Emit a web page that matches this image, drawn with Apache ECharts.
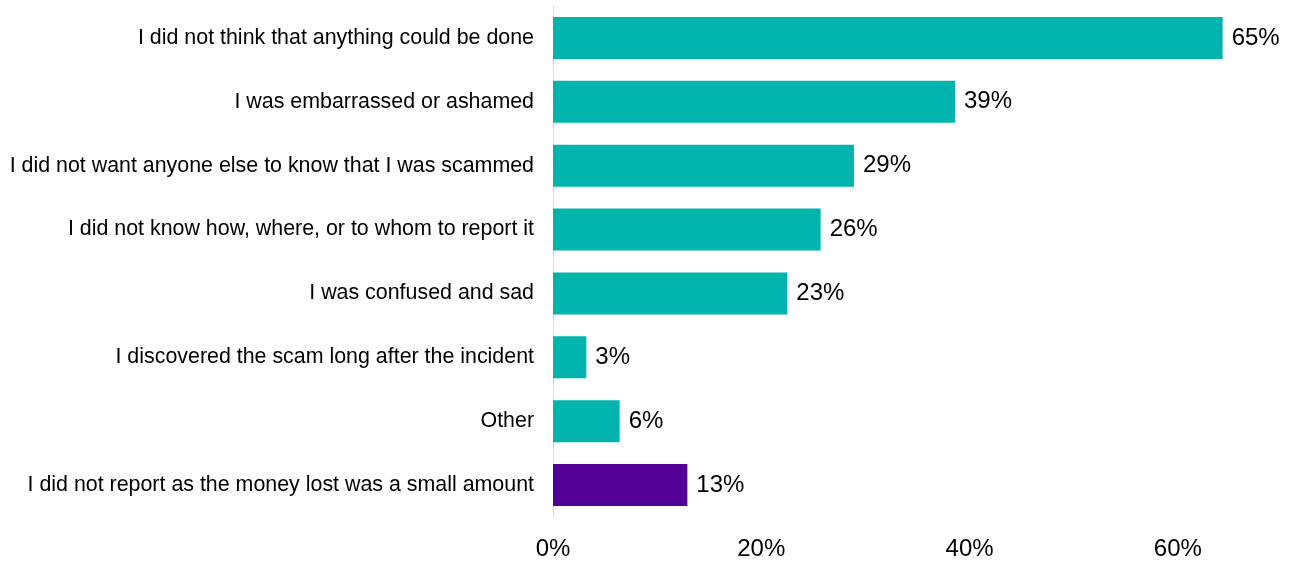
<!DOCTYPE html>
<html>
<head>
<meta charset="utf-8">
<script src="https://cdn.jsdelivr.net/npm/echarts@6/dist/echarts.min.js"></script>
<style>
  html, body { margin: 0; padding: 0; background: #fff; }
  #chart { width: 1289px; height: 561px; }
</style>
</head>
<body>
<div id="chart"></div>
<script>
  // reasons for not reporting, top to bottom
  const reasons = [
    'I did not think that anything could be done',
    'I was embarrassed or ashamed',
    'I did not want anyone else to know that I was scammed',
    'I did not know how, where, or to whom to report it',
    'I was confused and sad',
    'I discovered the scam long after the incident',
    'Other',
    'I did not report as the money lost was a small amount'
  ];
  const shares = [64.3, 38.6, 28.9, 25.7, 22.5, 3.2, 6.4, 12.9];
  const shareLabels = ['65%', '39%', '29%', '26%', '23%', '3%', '6%', '13%'];
  const barColors = ['#00B4AD', '#00B4AD', '#00B4AD', '#00B4AD', '#00B4AD', '#00B4AD', '#00B4AD', '#530096'];
  const tickValues = [0, 20, 40, 60];

  const myChart = echarts.init(document.getElementById('chart'));

  let barData = [];
  for (let i = 0; i < shares.length; i++) {
    barData.push({
      value: shares[i],
      itemStyle: { color: barColors[i] },
      label: { formatter: shareLabels[i] }
    });
  }

  let option = {
    animation: false,
    textStyle: { fontFamily: '"Liberation Sans", Arial, sans-serif' },
    grid: {
      left: 553,
      right: 7,
      top: 6,
      bottom: 43
    },
    xAxis: {
      type: 'value',
      min: 0,
      max: 70,
      interval: 20,
      splitLine: { show: false },
      axisLine: { show: false },
      axisTick: { show: false },
      axisLabel: {
        fontSize: 24,
        color: '#000',
        margin: 20,
        formatter: function (v) {
          return tickValues.indexOf(v) >= 0 ? v + '%' : '';
        }
      }
    },
    yAxis: {
      type: 'category',
      inverse: true,
      data: reasons,
      axisLine: { show: true, lineStyle: { color: '#d9d9d9', width: 1 } },
      axisTick: { show: false },
      axisLabel: {
        fontSize: 21.4,
        color: '#000',
        margin: 19
      }
    },
    series: [
      {
        type: 'bar',
        data: barData,
        barWidth: 42,
        label: {
          show: true,
          position: 'right',
          distance: 9,
          fontSize: 24,
          color: '#000'
        }
      }
    ]
  };

  myChart.setOption(option);
</script>
</body>
</html>
